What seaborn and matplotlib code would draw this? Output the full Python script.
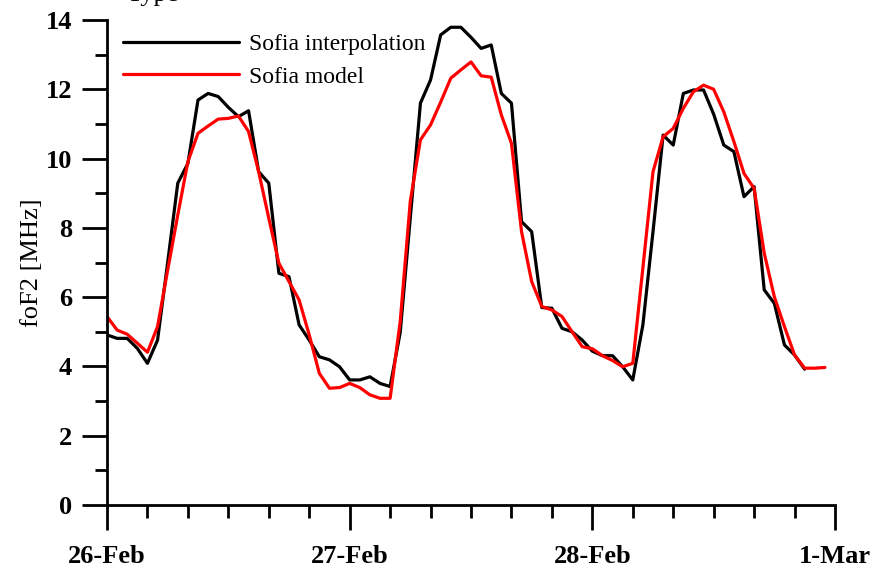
import numpy as np
import pandas as pd
import matplotlib
matplotlib.use("Agg")
import matplotlib.pyplot as plt
import seaborn as sns
from matplotlib.ticker import MultipleLocator

# Hourly foF2 values [MHz], starting 26-Feb 00:00
interp_foF2 = [
    4.91, 4.81, 4.81, 4.52, 4.09, 4.76, 7.00, 9.29, 9.86, 11.69, 11.88, 11.79,
    11.48, 11.21, 11.38, 9.62, 9.29, 6.69, 6.59, 5.20, 4.76, 4.28, 4.19, 3.99,
    3.61, 3.61, 3.70, 3.51, 3.42, 4.98, 8.30, 11.60, 12.27, 13.57, 13.79, 13.79,
    13.50, 13.18, 13.28, 11.88, 11.60, 8.18, 7.89, 5.70, 5.68, 5.10, 5.00, 4.76,
    4.44, 4.31, 4.31, 3.99, 3.61, 5.20, 7.89, 10.68, 10.39, 11.88, 11.98, 11.98,
    11.28, 10.39, 10.20, 8.90, 9.19, 6.21, 5.82, 4.62, 4.33, 3.92,
]
model_foF2 = [
    5.44, 5.05, 4.93, 4.67, 4.41, 5.15, 6.78, 8.37, 9.91, 10.73, 10.94, 11.14,
    11.16, 11.23, 10.78, 9.62, 8.28, 6.98, 6.45, 5.92, 4.91, 3.80, 3.37, 3.39,
    3.51, 3.39, 3.18, 3.08, 3.08, 5.30, 8.78, 10.54, 10.97, 11.63, 12.32, 12.56,
    12.79, 12.39, 12.35, 11.26, 10.44, 7.89, 6.45, 5.73, 5.63, 5.44, 5.00, 4.57,
    4.51, 4.31, 4.17, 3.99, 4.09, 6.85, 9.62, 10.63, 10.87, 11.45, 11.93, 12.12,
    12.00, 11.35, 10.49, 9.57, 9.14, 7.27, 6.01, 5.15, 4.33, 3.95, 3.95, 3.97,
]
series_names = ["Sofia interpolation", "Sofia model"]
series_colors = ["#000000", "#ff0000"]
day_labels = ["26-Feb", "27-Feb", "28-Feb", "1-Mar"]

frames = []
for name, vals in zip(series_names, [interp_foF2, model_foF2]):
    hours = np.arange(len(vals))
    frames.append(pd.DataFrame({"day": hours / 24.0, "foF2": vals, "series": name}))
df = pd.concat(frames, ignore_index=True)

sns.set_theme(style="ticks")
plt.rcParams["font.family"] = ["Liberation Serif", "DejaVu Serif"]
plt.rcParams["text.color"] = "black"
plt.rcParams["axes.labelcolor"] = "black"

fig = plt.figure(figsize=(8.72, 5.68), dpi=100)
ax = fig.add_axes([107 / 872, 63 / 568, 728 / 872, 485 / 568])

sns.lineplot(data=df, x="day", y="foF2", hue="series",
             palette=dict(zip(series_names, series_colors)),
             linewidth=2.3, ax=ax, legend=True)

ax.set_xlim(0, 3)
ax.set_ylim(0, 14)
ax.set_xticks(range(len(day_labels)))
ax.set_xticklabels(day_labels)
ax.xaxis.set_minor_locator(MultipleLocator(4 / 24))
ax.yaxis.set_major_locator(MultipleLocator(2))
ax.yaxis.set_minor_locator(MultipleLocator(1))

for side in ["top", "right"]:
    ax.spines[side].set_visible(False)
for side in ["left", "bottom"]:
    ax.spines[side].set_linewidth(2.0)
    ax.spines[side].set_color("black")

ax.tick_params(axis="both", which="major", length=18, width=2.0, color="black",
               labelsize=19, labelcolor="black", direction="out")
ax.tick_params(axis="both", which="minor", length=9, width=2.0, color="black",
               direction="out")
ax.tick_params(axis="x", which="major", pad=11)
ax.tick_params(axis="y", which="major", pad=7)
for lbl in ax.get_xticklabels() + ax.get_yticklabels():
    lbl.set_fontweight("bold")

ax.set_xlabel("")
ax.set_ylabel("foF2 [MHz]", fontsize=19, color="black", labelpad=2)

handles, labels = ax.get_legend_handles_labels()
ax.legend(handles, labels, loc="upper left", bbox_to_anchor=(0.022, 0.972),
          frameon=False, fontsize=17, handlelength=4.9, handletextpad=0.45,
          labelspacing=0.47, borderaxespad=0, borderpad=0)

fig.text(127 / 872, 567 / 568, "Type", fontsize=19, va="baseline", ha="left",
         color="black")

fig.savefig("out.png", dpi=100)
